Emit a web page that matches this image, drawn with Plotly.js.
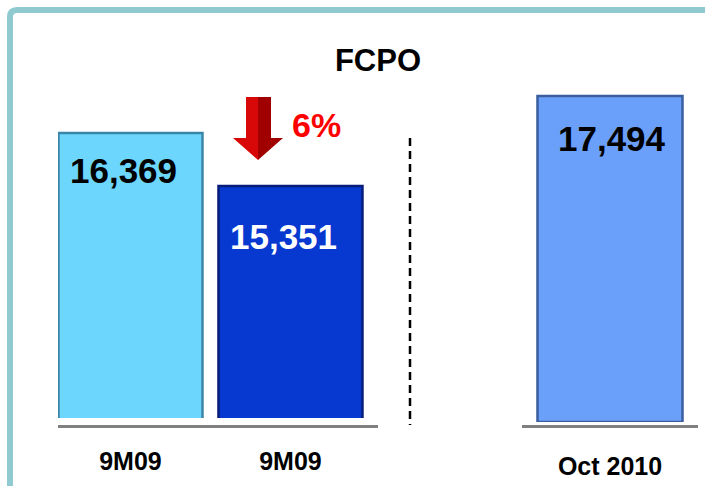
<!DOCTYPE html>
<html>
<head>
<meta charset="utf-8">
<script src="https://cdn.plot.ly/plotly-3.0.1.min.js"></script>
<style>html,body{margin:0;padding:0;background:#fff;}#chart{width:705px;height:486px;}</style>
</head>
<body>
<div id="chart"></div>
<script>
// ---- data ----
var leftCategories = ["9M09 a", "9M09 b"];
var leftTickLabels = ["9M09", "9M09"];
var leftValues = [16369, 15351];
var rightCategories = ["Oct 2010"];
var rightTickLabels = ["Oct 2010"];
var rightValues = [17494];
var changeLabel = "6%";
var chartTitle = "FCPO";

// ---- helpers (pixel -> paper) ----
var W = 705, H = 486, T = 56, B = 60;
var PH = H - T - B;
function px(x) { return x / W; }
function py(y) { return (H - B - y) / PH; }

var FONT = "Arial, 'Liberation Sans', sans-serif";

var traces = [
  {
    type: "bar", x: [leftCategories[0]], y: [leftValues[0]], xaxis: "x", yaxis: "y",
    width: 0.9, marker: {color: "#6CD6FC", line: {color: "#3A86A8", width: 2.5}},
    hoverinfo: "skip"
  },
  {
    type: "bar", x: [leftCategories[1]], y: [leftValues[1]], xaxis: "x", yaxis: "y",
    width: 0.9, marker: {color: "#0738D0", line: {color: "#061E7A", width: 2.5}},
    hoverinfo: "skip"
  },
  {
    type: "bar", x: rightCategories, y: rightValues, xaxis: "x2", yaxis: "y2",
    width: 0.824, marker: {color: "#6AA0FA", line: {color: "#3A5E9E", width: 2.5}},
    hoverinfo: "skip"
  }
];

var valueColors = ["#000000", "#FFFFFF"];
var leftShifts = [-37, -50];
var annotations = [];
leftValues.forEach(function (v, i) {
  annotations.push({
    x: leftCategories[i], y: v, xref: "x", yref: "y",
    text: v.toLocaleString("en-US"), showarrow: false,
    yanchor: "middle", yshift: leftShifts[i], xshift: -7,
    font: {family: FONT, size: 35, color: valueColors[i], weight: "bold"}
  });
});
rightValues.forEach(function (v, i) {
  annotations.push({
    x: rightCategories[i], y: v, xref: "x2", yref: "y2",
    text: v.toLocaleString("en-US"), showarrow: false,
    yanchor: "middle", yshift: -43, xshift: 2,
    font: {family: FONT, size: 35, color: "#000000", weight: "bold"}
  });
});
annotations.push({
  x: px(316), y: py(125), xref: "paper", yref: "paper",
  text: changeLabel, showarrow: false, xanchor: "center", yanchor: "middle",
  font: {family: FONT, size: 34, color: "#FF0000", weight: "bold"}
});

function poly(pts) {
  return "M " + pts.map(function (p) { return px(p[0]) + "," + py(p[1]); }).join(" L ") + " Z";
}

var shapes = [
  // frame
  {
    type: "path", xref: "paper", yref: "paper",
    path: "M " + px(10) + "," + py(490) + " L " + px(10) + "," + py(17) +
          " Q " + px(10) + "," + py(10) + " " + px(17) + "," + py(10) +
          " L " + px(710) + "," + py(10),
    line: {color: "#8FCAD0", width: 6}
  },
  // dashed divider
  {
    type: "line", xref: "paper", yref: "paper",
    x0: px(410), x1: px(410), y0: py(138), y1: py(425),
    line: {color: "#000000", width: 2.5, dash: "8px,5px"}
  },
  // arrow - left face
  {
    type: "path", xref: "paper", yref: "paper",
    path: poly([[246, 97], [258, 97], [258, 160], [233, 138], [246, 138]]),
    fillcolor: "#D80808", line: {width: 0}
  },
  // arrow - right face
  {
    type: "path", xref: "paper", yref: "paper",
    path: poly([[258, 97], [271, 97], [271, 138], [283, 138], [258, 160]]),
    fillcolor: "#A00000", line: {width: 0}
  }
];

var tickFont = {family: FONT, size: 25, color: "#000000", weight: "bold"};

var layout = {
  width: W, height: H,
  margin: {l: 0, r: 0, t: T, b: B, pad: 0},
  paper_bgcolor: "#FFFFFF", plot_bgcolor: "rgba(0,0,0,0)",
  showlegend: false,
  title: {
    text: chartTitle, x: px(378), xanchor: "center",
    y: 1 - 60 / H, yref: "container", yanchor: "middle",
    font: {family: FONT, size: 31, color: "#000000", weight: "bold"}
  },
  xaxis: {
    domain: [px(58), px(378)], anchor: "free", position: 0,
    type: "category", range: [-0.453, 1.547],
    tickvals: leftCategories, ticktext: leftTickLabels,
    showline: true, linecolor: "#808080", linewidth: 2.5,
    showgrid: false, zeroline: false, ticks: "", ticklabelstandoff: 12,
    tickfont: tickFont, fixedrange: true
  },
  xaxis2: {
    domain: [px(522), px(698)], anchor: "free", position: 0,
    type: "category", range: [-0.5, 0.5],
    tickvals: rightCategories, ticktext: rightTickLabels,
    showline: true, linecolor: "#808080", linewidth: 2.5,
    showgrid: false, zeroline: false, ticks: "", ticklabelstandoff: 17,
    tickfont: tickFont, fixedrange: true
  },
  yaxis: {
    domain: [py(418), 1], anchor: "x",
    range: [10895, 17848], visible: false, showgrid: false, zeroline: false, fixedrange: true
  },
  yaxis2: {
    domain: [py(422), 1], anchor: "x2",
    range: [0, 19640], visible: false, showgrid: false, zeroline: false, fixedrange: true
  },
  annotations: annotations,
  shapes: shapes
};

Plotly.newPlot("chart", traces, layout, {displayModeBar: false, staticPlot: true});
</script>
</body>
</html>
